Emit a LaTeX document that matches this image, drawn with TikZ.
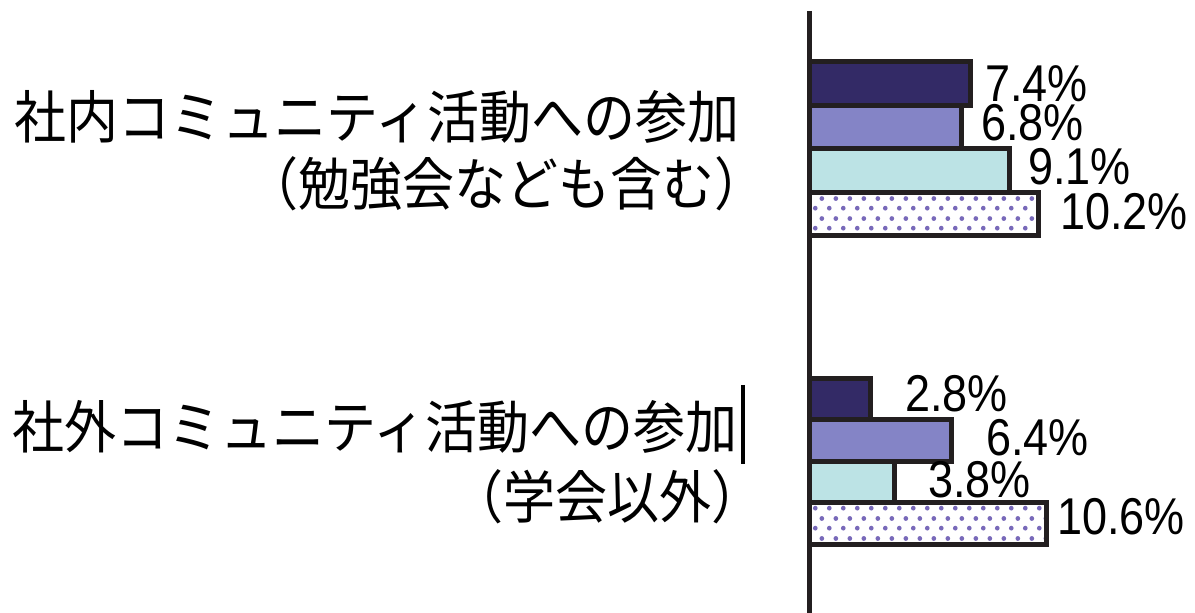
\documentclass[tikz,border=0pt]{standalone}
\usepackage{fontspec}
\setmainfont{Liberation Sans}
\newfontfamily\jpfont{Noto Sans CJK JP}
\usetikzlibrary{patterns.meta}

\definecolor{outline}{RGB}{35,31,32}
\definecolor{barA}{RGB}{51,42,102}
\definecolor{barB}{RGB}{132,132,198}
\definecolor{barC}{RGB}{188,227,229}
\definecolor{dotcol}{RGB}{120,105,185}

\newcommand{\tallnum}[1]{\scalebox{1}[1.15]{#1}}
\newcommand{\talljp}[1]{\scalebox{1}[1.1]{#1}}

\tikzdeclarepattern{
  name=bardots,
  type=uncolored,
  bounding box={(0pt,0pt) and (7pt,10pt)},
  tile size={(7pt,10pt)},
  code={
    \fill (1.75pt,2.5pt) circle (1.25pt);
    \fill (5.25pt,7.5pt) circle (1.25pt);
  }
}

\tikzset{
  bar/.style={draw=outline, line width=2.5pt},
  pct/.style={anchor=west, inner sep=0pt, font=\fontsize{22.5pt}{27pt}\selectfont},
  jplabel/.style={anchor=east, inner sep=0pt, font=\jpfont\fontsize{26pt}{30pt}\selectfont}
}

\begin{document}
\begin{tikzpicture}[x=0.5pt,y=-0.5pt]
\useasboundingbox (0,0) rectangle (1195,613);
% Balken:社内
\draw[bar, fill=barA] (809.5,62) rectangle (970.5,105.5);
\draw[bar, fill=barB] (809.5,105.5) rectangle (961.5,149);
\draw[bar, fill=barC] (809.5,149) rectangle (1009.5,192.5);
\draw[bar, fill=white, pattern={bardots}, pattern color=dotcol] (809.5,192.5) rectangle (1038.5,236);
% Balken: 社外
\draw[bar, fill=barA] (809.5,378.5) rectangle (870.5,420);
\draw[bar, fill=barB] (809.5,420) rectangle (951.5,461.5);
\draw[bar, fill=barC] (809.5,461.5) rectangle (894.5,503);
\draw[bar, fill=white, pattern={bardots}, pattern color=dotcol] (809.5,503) rectangle (1046.5,544.5);
% Achse
\draw[line width=2.5pt, outline] (809.5,11) -- (809.5,613);
% Werte
\node[pct] (inA) at (985,84) {\tallnum{7.4\%}};
\node[pct] (inB) at (981,123) {\tallnum{6.8\%}};
\node[pct] (inC) at (1028,167) {\tallnum{9.1\%}};
\node[pct] (inD) at (1060,212) {\tallnum{10.2\%}};
\node[pct] (outA) at (905,394) {\tallnum{2.8\%}};
\node[pct] (outB) at (986,438) {\tallnum{6.4\%}};
\node[pct] (outC) at (928,480) {\tallnum{3.8\%}};
\node[pct] (outD) at (1057,517) {\tallnum{10.6\%}};
% Beschriftung
\node[jplabel] (inT) at (740,117) {\talljp{社内コミュニティ活動への参加}};
\node[jplabel] (inS) at (767,184) {\talljp{（勉強会なども含む）}};
\node[jplabel] (outT) at (738,427) {\talljp{社外コミュニティ活動への参加}};
\node[jplabel] (outS) at (764,497) {\talljp{（学会以外）}};
\draw[line width=2pt] (742.5,385) -- (742.5,464);
\end{tikzpicture}
\end{document}
